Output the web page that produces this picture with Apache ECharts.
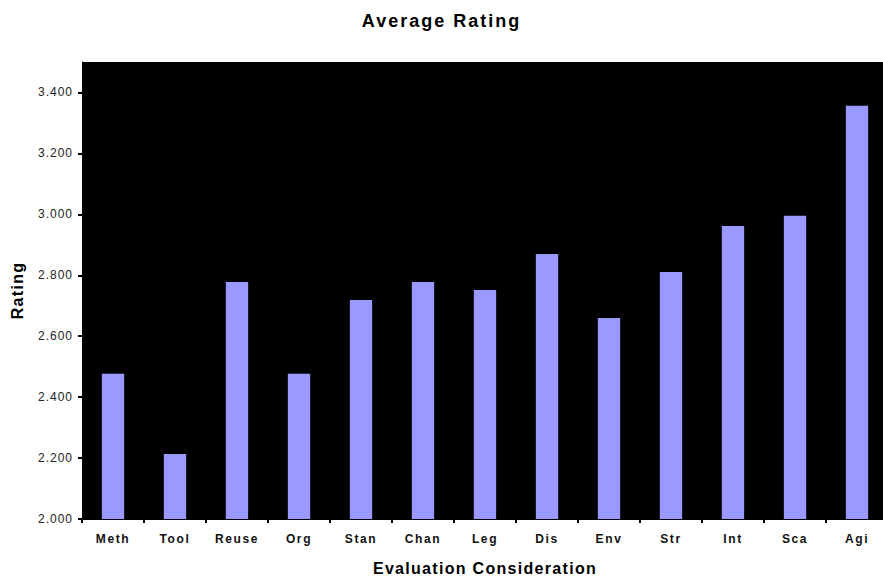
<!DOCTYPE html>
<html>
<head>
<meta charset="utf-8">
<style>
  html, body { margin: 0; padding: 0; background: #fff; overflow: hidden; }
  #chart { width: 883px; height: 580px; }
</style>
<script src="https://cdn.jsdelivr.net/npm/echarts@6/dist/echarts.min.js"></script>
</head>
<body>
<div id="chart"></div>
<script>
// Evaluation considerations and their average ratings
const categories = ['Meth', 'Tool', 'Reuse', 'Org', 'Stan', 'Chan', 'Leg', 'Dis', 'Env', 'Str', 'Int', 'Sca', 'Agi'];
const ratings = [2.477, 2.213, 2.778, 2.477, 2.719, 2.778, 2.752, 2.870, 2.660, 2.811, 2.962, 2.995, 3.356];

const FONT = '"Liberation Sans", Arial, sans-serif';

const chart = echarts.init(document.getElementById('chart'), null, { renderer: 'svg' });
chart.setOption({
  animation: false,
  backgroundColor: '#ffffff',
  title: {
    text: 'Average Rating',
    left: 'center',
    top: 7,
    textStyle: { fontFamily: FONT, fontSize: 18, fontWeight: 'bold', color: '#000' }
  },
  grid: {
    // the plot runs slightly past the right edge of the page
    left: 82, right: -5, top: 62, bottom: 61,
    outerBoundsMode: 'none',
    containLabel: false,
    show: true, backgroundColor: '#000000', borderWidth: 0
  },
  xAxis: {
    type: 'category',
    data: categories,
    name: 'Evaluation Consideration',
    nameLocation: 'middle',
    nameGap: 41,
    nameTextStyle: { fontFamily: FONT, fontSize: 16, fontWeight: 'bold', color: '#000', padding: [0, 0, 0, 0] },
    axisLine: { show: true, lineStyle: { color: '#000', width: 1 } },
    axisTick: { show: true, alignWithLabel: false, length: 4, lineStyle: { color: '#000', width: 2 } },
    axisLabel: { fontFamily: FONT, fontSize: 12, fontWeight: 'bold', color: '#111', margin: 14 }
  },
  yAxis: {
    type: 'value',
    min: 2.0,
    max: 3.5,
    interval: 0.2,
    name: 'Rating',
    nameLocation: 'middle',
    nameGap: 57,
    nameTextStyle: { fontFamily: FONT, fontSize: 16, fontWeight: 'bold', color: '#000' },
    axisLine: { show: true, lineStyle: { color: '#000', width: 1 } },
    axisTick: { show: true, length: 4, lineStyle: { color: '#000', width: 2 } },
    splitLine: { show: false },
    axisLabel: {
      fontFamily: FONT, fontSize: 12, color: '#222', margin: 9,
      showMaxLabel: false,
      formatter: v => (Math.abs(v - 3.5) < 1e-9 ? '' : v.toFixed(3))
    }
  },
  series: [{
    type: 'bar',
    data: ratings,
    barWidth: '36%',
    itemStyle: { color: '#9999FF' }
  }]
});

// Open up the tracking of every text run, a little more for the larger, bolder ones
document.querySelectorAll('#chart text').forEach(t => {
  const cs = getComputedStyle(t);
  const size = parseFloat(cs.fontSize);
  const bold = parseInt(cs.fontWeight, 10) >= 600 || cs.fontWeight === 'bold';
  let ls = 1;
  if (size >= 18) ls = 2;
  else if (size >= 16) ls = 1.3;
  else if (bold) ls = 1.6;
  t.style.letterSpacing = ls + 'px';
});
</script>
</body>
</html>
